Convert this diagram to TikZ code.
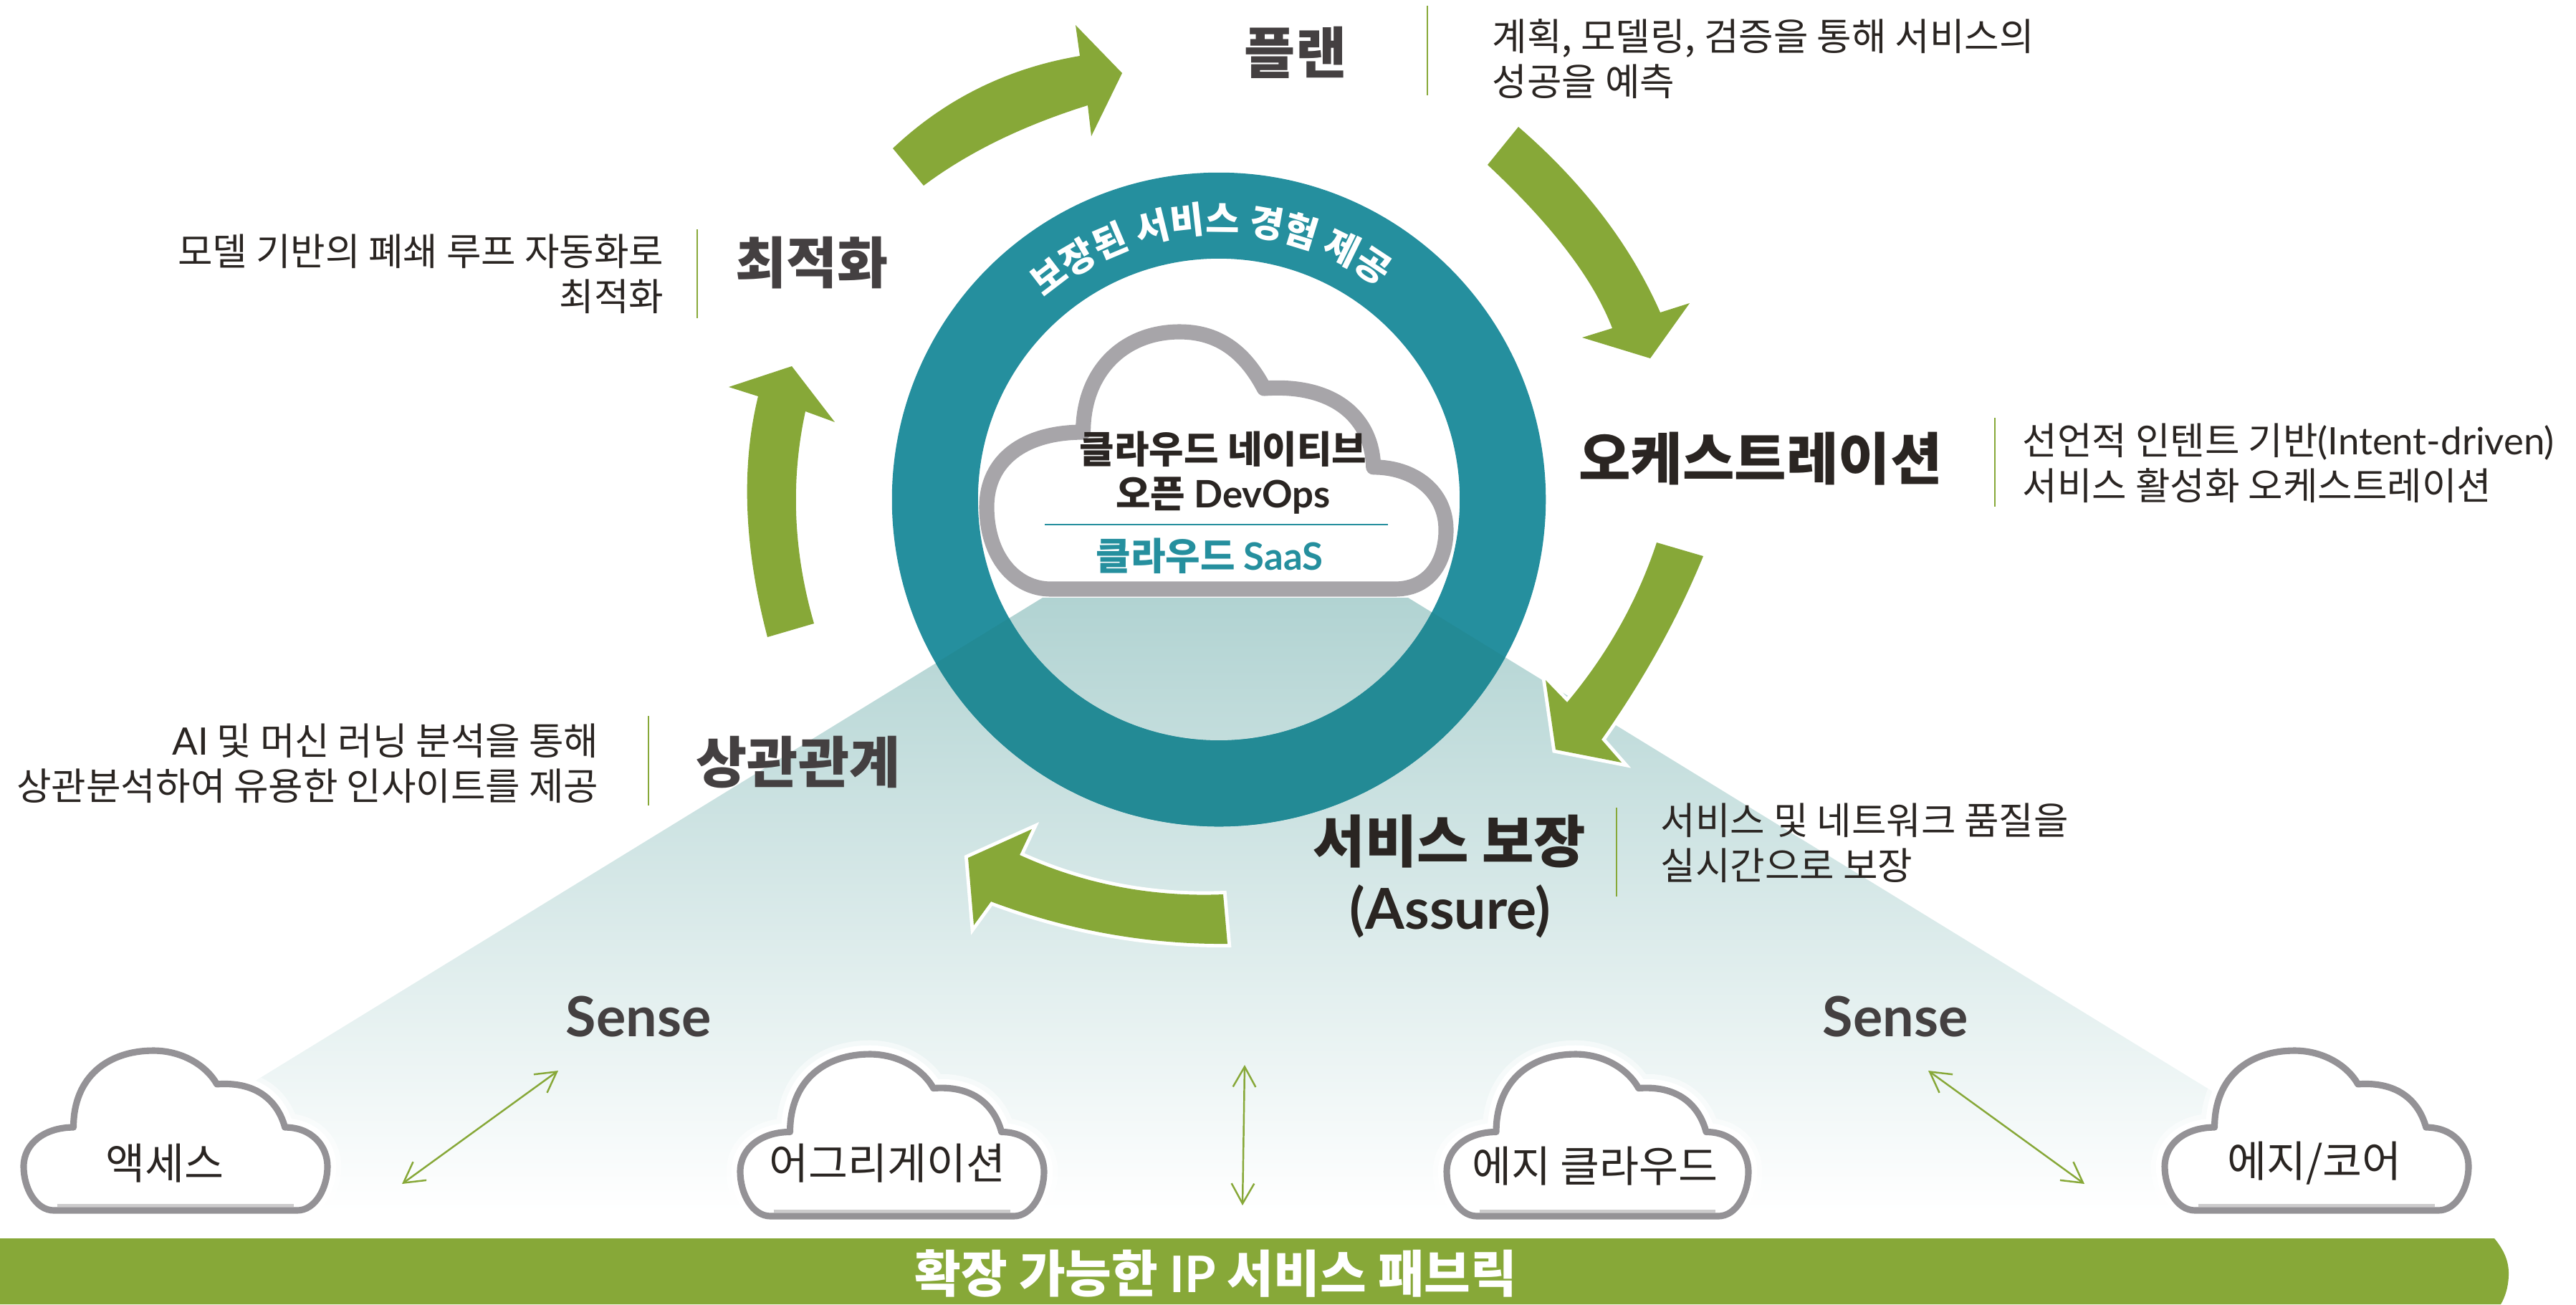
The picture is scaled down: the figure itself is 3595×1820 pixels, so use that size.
\documentclass[tikz,border=0pt]{standalone}
\usepackage{fontspec}
\setmainfont{Noto Sans CJK KR}
\newfontfamily\lato{Lato}
\usetikzlibrary{arrows.meta,calc,decorations.text}

\definecolor{leafGreen}{HTML}{87A838}
\definecolor{ringTeal}{HTML}{258F9E}
\definecolor{ringDark}{HTML}{238A95}
\definecolor{cloudGrey}{HTML}{A7A5A9}
\definecolor{edgeGrey}{HTML}{949296}
\definecolor{edgeLight}{HTML}{CCCBCC}
\definecolor{headInk}{HTML}{444041}
\definecolor{darkInk}{HTML}{2A2522}
\definecolor{fieldTop}{HTML}{B1D3D2}
\definecolor{fieldMid}{HTML}{D2E5E5}

\newcommand{\cloudPath}{(0.14,0) -- (0.888,0) .. controls (0.97,0) and (1,0.12) .. (1,0.23)
	.. controls (1,0.38) and (0.93,0.474) .. (0.842,0.474)
	.. controls (0.84,0.66) and (0.76,0.80) .. (0.604,0.78)
	.. controls (0.56,0.93) and (0.50,1) .. (0.42,1)
	.. controls (0.30,1) and (0.21,0.85) .. (0.21,0.61)
	.. controls (0.08,0.61) and (0,0.50) .. (0,0.32)
	.. controls (0,0.13) and (0.06,0) .. (0.14,0) -- cycle}
\newcommand{\siteCloudPath}{(0.10,0) -- (0.90,0) .. controls (0.96,0) and (1,0.14) .. (1,0.275)
	.. controls (1,0.40) and (0.95,0.52) .. (0.86,0.52)
	.. controls (0.84,0.66) and (0.78,0.81) .. (0.636,0.79)
	.. controls (0.60,0.91) and (0.52,1) .. (0.427,1)
	.. controls (0.28,1) and (0.164,0.84) .. (0.164,0.52)
	.. controls (0.07,0.52) and (0,0.42) .. (0,0.275)
	.. controls (0,0.14) and (0.04,0) .. (0.10,0) -- cycle}

\begin{document}
\begin{tikzpicture}[x=0.01cm, y=-0.01cm, >={Straight Barb[length=8pt,width=9pt]}, align=center]

%local definitions
\tikzstyle{Arrow} = [fill=leafGreen, preaction={draw=white, line width=2.8pt}]
\tikzstyle{Title} = [font=\bfseries\fontsize{22}{27}\selectfont, text=headInk, inner sep=0pt]
\tikzstyle{TitleDark} = [Title, text=darkInk, font=\bfseries\fontsize{22.4}{27}\selectfont]
\tikzstyle{Body} = [font=\fontsize{15}{18}\selectfont, text=darkInk, inner sep=0pt]
\tikzstyle{CloudText} = [font=\bfseries\fontsize{15}{18}\selectfont, inner sep=0pt]
\tikzstyle{Site} = [font=\fontsize{17}{20}\selectfont, text=darkInk, inner sep=0pt]
\tikzstyle{Rule} = [draw=leafGreen, line width=0.7pt]
\tikzstyle{Link} = [draw=leafGreen, line width=0.7pt, <->]

\useasboundingbox (0,0) rectangle (3595,1820);
\coordinate (ringCenter) at (1701,697);

%fading field
\shade [top color=fieldTop, middle color=fieldMid, bottom color=white]
	(1455,834) -- (1965,834) -- (3360,1690) -- (60,1690) -- cycle;

%ring
\fill [ringTeal, even odd rule] (ringCenter) circle[radius=4.56cm] (ringCenter) circle[radius=3.36cm];
\begin{scope}
	\clip (1455,834) -- (1965,834) -- (3360,1690) -- (60,1690) -- cycle;
	\fill [ringDark, even odd rule] (ringCenter) circle[radius=4.56cm] (ringCenter) circle[radius=3.36cm];
\end{scope}
\path [decorate, decoration={text along path, text color=white, text align=center,
	text={|\bfseries\fontsize{14.6}{18}\selectfont|보장된 서비스 경험 제공}}]
	($(ringCenter)+(140:3.72cm)$) arc[start angle=140, end angle=44, radius=3.72cm];

%cycle arrows
\path [Arrow] (1246,207) .. controls (1319,138) and (1406,95) .. (1507,78) -- (1501,35) -- (1566,102) -- (1523,190) -- (1518,147)
	.. controls (1425,176) and (1349,214) .. (1289,259) -- cycle;
\path [Arrow] (2119,177) .. controls (2209,255) and (2275,341) .. (2317,436) -- (2358,423) -- (2303,500) -- (2208,471) -- (2250,458)
	.. controls (2224,390) and (2166,314) .. (2076,230) -- cycle;
\path [Arrow] (2312,757) .. controls (2285,839) and (2243,913) .. (2187,980) -- (2157,949) -- (2171,1046) -- (2263,1064) -- (2235,1032)
	.. controls (2297,944) and (2343,859) .. (2377,776) -- cycle;
\path [Arrow] (1707,1248) .. controls (1608,1252) and (1513,1234) .. (1423,1193) -- (1440,1157) -- (1351,1197) -- (1359,1291) -- (1383,1258)
	.. controls (1490,1298) and (1600,1318) .. (1713,1317) -- cycle;
\path [Arrow] (1071,889) .. controls (1038,763) and (1034,651) .. (1058,553) -- (1017,540) -- (1105,511) -- (1165,589) -- (1124,574)
	.. controls (1103,671) and (1107,770) .. (1136,870) -- cycle;

%clouds
\begin{scope}[shift={(1377,822)}, xscale=641, yscale=-359]
	\draw [cloudGrey, fill=white, line width=6pt, line join=round] \cloudPath;
\end{scope}
\foreach \cloudX/\cloudY/\cloudW/\cloudH in {33/1689/424/223, 1033/1697/424/226, 2019/1697/421/226, 3021/1689/424/223}
{
	\begin{scope}[shift={(\cloudX,\cloudY)}, xscale=\cloudW, yscale=-\cloudH]
		\draw [white, opacity=0.5, line width=11pt, line join=round] \siteCloudPath;
		\draw [white, line width=7pt, line join=round] \siteCloudPath;
		\draw [edgeGrey, fill=white, line width=2.6pt, line join=round] \siteCloudPath;
		\draw [edgeLight, line width=1.2pt] (0.11,0.03) -- (0.89,0.03);
	\end{scope}
}

%fabric bar
\fill [leafGreen] (0,1728) -- (3481,1728) .. controls (3495,1745) and (3501,1760) .. (3501,1777)
	.. controls (3501,1795) and (3496,1810) .. (3490,1820) -- (0,1820) -- cycle;
\node [font=\bfseries\fontsize{20}{24}\selectfont, text=white, inner sep=0pt] (fabricLabel) at (1697,1777) {확장 가능한 {\lato IP} 서비스 패브릭};

%board components
\node [CloudText, text=darkInk] (nativeLabel) at (1707,627) {클라우드 네이티브};
\node [CloudText, text=darkInk] (devopsLabel) at (1707,692) {오픈 {\lato DevOps}};
\node [CloudText, text=ringTeal] (saasLabel) at (1688,776) {클라우드 {\lato SaaS}};
\draw [ringTeal, line width=0.7pt] (1458,732) -- (1937,732);

\node [Title] (planTitle) at (1808,73) {플랜};
\node [Body, anchor=west, align=left] (planText) at (2082,82) {계획, 모델링, 검증을 통해 서비스의\\성공을 예측};
\node [TitleDark] (orchTitle) at (2457,640) {오케스트레이션};
\node [Body, anchor=west, align=left] (orchText) at (2822,646) {선언적 인텐트 기반{\lato (Intent-driven)}\\서비스 활성화 오케스트레이션};
\node [TitleDark] (assureTitle) at (2023,1174) {서비스 보장};
\node [TitleDark, font=\lato\bfseries\fontsize{22.4}{27}\selectfont] (assureSub) at (2024,1272) {(Assure)};
\node [Body, anchor=west, align=left] (assureText) at (2317,1176) {서비스 및 네트워크 품질을\\실시간으로 보장};
\node [Title] (corrTitle) at (1114,1064) {상관관계};
\node [Body, anchor=east, align=right] (corrText) at (836,1065) {{\lato AI} 및 머신 러닝 분석을 통해\\상관분석하여 유용한 인사이트를 제공};
\node [Title] (optTitle) at (1133,367) {최적화};
\node [Body, anchor=east, align=right] (optText) at (927,382) {모델 기반의 폐쇄 루프 자동화로\\최적화};

\node [Title, font=\lato\bfseries\fontsize{22}{27}\selectfont] (senseLeft) at (891,1418) {Sense};
\node [Title, font=\lato\bfseries\fontsize{22}{27}\selectfont] (senseRight) at (2645,1418) {Sense};

\node [Site] (accessLabel) at (230,1623) {액세스};
\node [Site] (aggLabel) at (1238,1623) {어그리게이션};
\node [Site] (edgeLabel) at (2226,1627) {에지 클라우드};
\node [Site] (coreLabel) at (3230,1623) {에지/코어};

%connections
\draw [Rule] (1992,8) -- (1992,133);
\draw [Rule] (973,320) -- (973,444);
\draw [Rule] (2784,583) -- (2784,707);
\draw [Rule] (2256,1127) -- (2256,1251);
\draw [Rule] (905,999) -- (905,1124);

\coordinate (linkLeftA) at (561,1652);
\coordinate (linkLeftB) at (779,1494);
\coordinate (linkMidA) at (1737,1486);
\coordinate (linkMidB) at (1734,1682);
\coordinate (linkRightA) at (2691,1494);
\coordinate (linkRightB) at (2909,1652);
\draw [Link] (linkLeftA) -- (linkLeftB);
\draw [Link] (linkMidA) -- (linkMidB);
\draw [Link] (linkRightA) -- (linkRightB);

\end{tikzpicture}
\end{document}
